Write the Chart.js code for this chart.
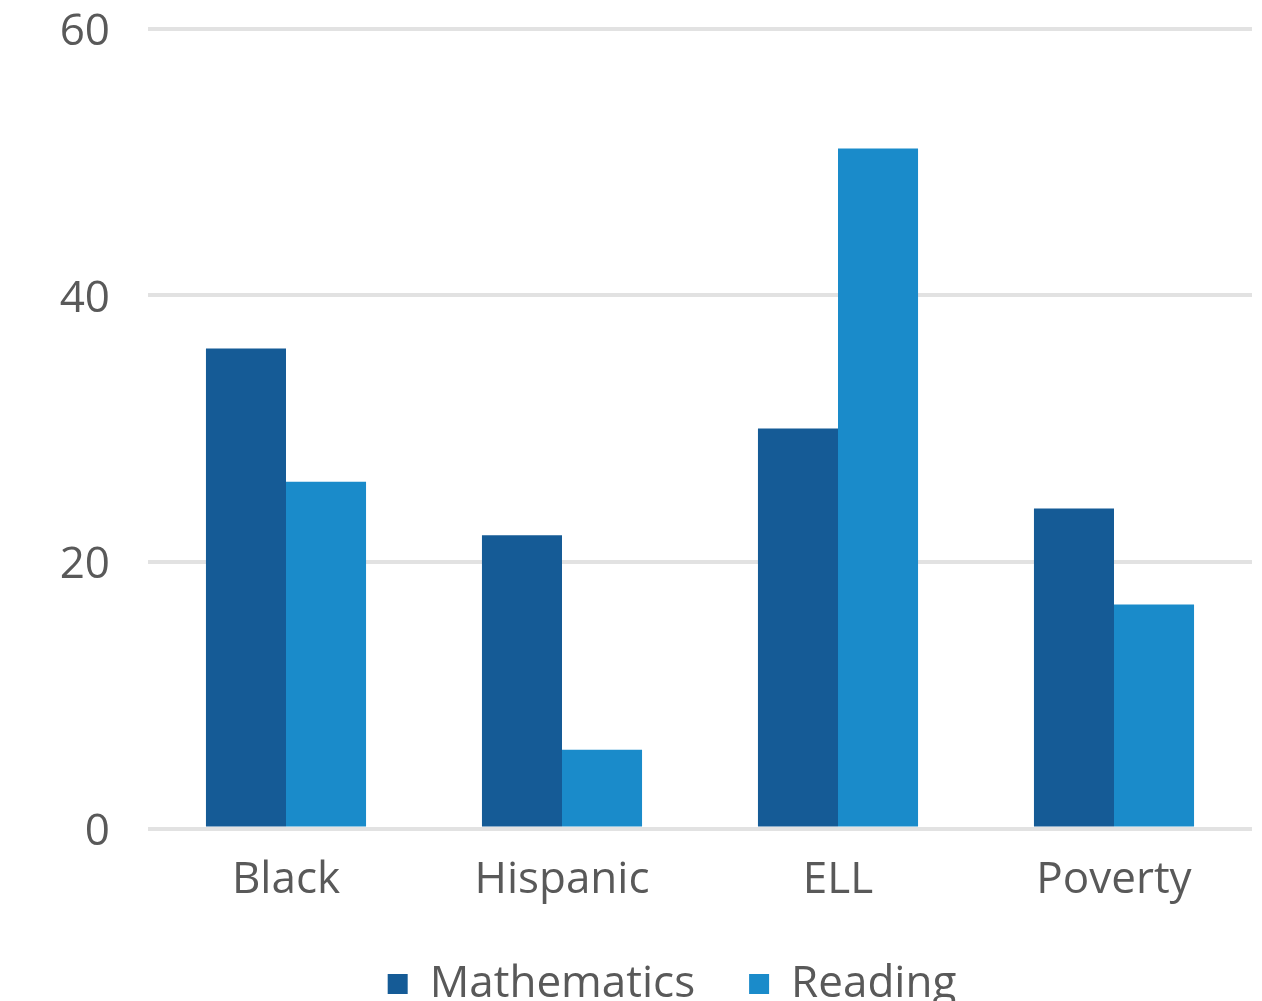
<!DOCTYPE html>
<html>
<head>
<meta charset="utf-8">
<script src="https://cdn.jsdelivr.net/npm/chart.js@4/dist/chart.umd.min.js"></script>
<style>
  html, body { margin: 0; padding: 0; background: #ffffff; overflow: hidden; }
  #wrap { position: absolute; left: 0; top: 0; width: 1262px; height: 1016px; }
</style>
</head>
<body>
<div id="wrap"><canvas id="chart" width="1262" height="1016"></canvas></div>
<script>
// Student groups along the x axis
const categories = ["Black", "Hispanic", "ELL", "Poverty"];
// Values per subject
const mathematics = [36, 22, 30, 24];
const reading = [26, 5.9, 51, 16.8];
// Y axis ticks
const yTicks = [0, 20, 40, 60];

const FONT = "'Open Sans', sans-serif";
const TEXT = "#595959";

// Nudges the bottom legend a little to the left of the plot centre
const legendOffset = {
  id: "legendOffset",
  afterLayout(chart) {
    chart.legend.left -= 28;
    chart.legend.right -= 28;
  }
};

const ctx = document.getElementById("chart").getContext("2d");
new Chart(ctx, {
  type: "bar",
  data: {
    labels: categories,
    datasets: [
      { label: "Mathematics", data: mathematics, backgroundColor: "#155b96" },
      { label: "Reading", data: reading, backgroundColor: "#1a8bca" }
    ]
  },
  plugins: [legendOffset],
  options: {
    responsive: false,
    animation: false,
    devicePixelRatio: 1,
    categoryPercentage: 0.58,
    barPercentage: 1.0,
    layout: { padding: { left: 0, right: 10, top: 0, bottom: 0 } },
    plugins: {
      tooltip: { enabled: false },
      legend: {
        position: "bottom",
        fullSize: false,
        labels: {
          font: { family: FONT, size: 44 },
          color: TEXT,
          boxWidth: 20,
          boxHeight: 20,
          padding: 54
        }
      }
    },
    scales: {
      x: {
        afterFit: (scale) => { scale.height = 79.5; },
        grid: { display: false, drawTicks: false },
        border: { display: false },
        ticks: { font: { family: FONT, size: 44 }, color: TEXT, padding: 26 }
      },
      y: {
        min: 0,
        max: 60,
        afterBuildTicks: (scale) => { scale.ticks = yTicks.map(v => ({ value: v })); },
        afterFit: (scale) => { scale.width = 148; scale.paddingTop = 28.5; },
        grid: { color: "#e2e2e2", lineWidth: 4, drawTicks: false },
        border: { display: false },
        ticks: { font: { family: FONT, size: 44 }, color: TEXT, padding: 38, labelOffset: 4 }
      }
    }
  }
});
</script>
</body>
</html>
